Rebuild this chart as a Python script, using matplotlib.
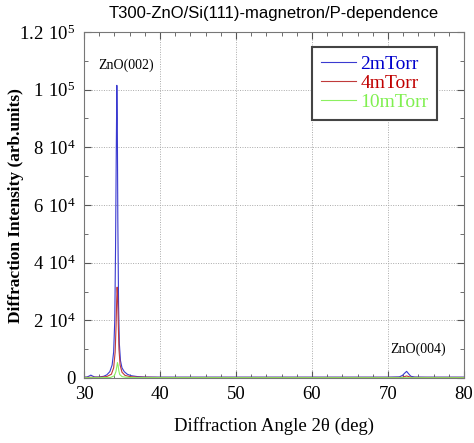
import matplotlib
matplotlib.use("Agg")
import matplotlib.pyplot as plt
from matplotlib.ticker import MultipleLocator, FixedLocator

plt.rcParams['mathtext.fontset'] = 'custom'
plt.rcParams['mathtext.rm'] = 'Liberation Serif'

# 2mTorr
x_2 = [30, 30.4, 30.7, 30.9, 31.1, 31.4, 32.0, 32.6, 33.0, 33.4, 33.7, 33.9, 34.05, 34.15, 34.25, 34.32, 34.38, 34.45, 34.55, 34.65, 34.8, 35.0, 35.3, 35.7, 36.2, 37.0, 38.0, 40.0, 50.0, 60.0, 70.0, 71.5, 71.9, 72.2, 72.45, 72.7, 73.0, 73.5, 75.0, 80.0]
y_2 = [300, 350, 700, 1000, 700, 350, 350, 600, 1100, 2200, 4500, 9000, 20000, 45000, 80000, 101500, 90000, 55000, 25000, 12000, 6000, 3500, 2200, 1300, 800, 500, 350, 300, 300, 300, 300, 400, 900, 1700, 2300, 1500, 600, 350, 300, 300]

# 4mTorr
x_4 = [30, 31.0, 32.0, 33.0, 33.6, 33.9, 34.1, 34.22, 34.3, 34.36, 34.42, 34.5, 34.6, 34.75, 35.0, 35.4, 36.0, 37.0, 40.0, 60.0, 71.8, 72.45, 73.1, 80.0]
y_4 = [200, 250, 250, 500, 1300, 3500, 9000, 18000, 27000, 31500, 29000, 20000, 10000, 4500, 2000, 900, 500, 300, 200, 200, 200, 700, 200, 200]

# 10mTorr
x_10 = [30, 32.0, 33.5, 34.0, 34.2, 34.32, 34.4, 34.48, 34.58, 34.7, 35.0, 35.5, 37.0, 80.0]
y_10 = [100, 100, 200, 800, 2200, 4000, 5300, 4500, 2500, 1200, 500, 250, 120, 100]

labels = ['2mTorr', '4mTorr', '10mTorr']
colors = ['#3a3ad0', '#c03a3a', '#8cf060']
text_colors = ['#0000cc', '#c00000', '#80f050']

fig = plt.figure(figsize=(4.74, 4.43), dpi=100)
ax = fig.add_axes([84/474, 1-378/443, 380/474, 346/443])

for xs, ys, c, lab in zip([x_2, x_4, x_10], [y_2, y_4, y_10], colors, labels):
    ax.plot(xs, ys, color=c, lw=0.8, label=lab)

ax.set_xlim(30, 80)
ax.set_ylim(0, 120000)
ax.xaxis.set_major_locator(MultipleLocator(10))
ax.xaxis.set_minor_locator(MultipleLocator(2))
yticks = [0, 20000, 40000, 60000, 80000, 100000, 120000]
ax.yaxis.set_major_locator(FixedLocator(yticks))
ax.yaxis.set_minor_locator(MultipleLocator(10000))
ylabels = ['0', r'$\mathrm{2\ 10^4}$', r'$\mathrm{4\ 10^4}$', r'$\mathrm{6\ 10^4}$',
           r'$\mathrm{8\ 10^4}$', r'$\mathrm{1\ 10^5}$', r'$\mathrm{1.2\ 10^5}$']
ax.set_yticklabels(ylabels)
ax.tick_params(which='both', direction='in', top=True, right=True, color='#555555')
ax.tick_params(which='major', length=5, labelsize=13.5, pad=6)
ax.tick_params(which='minor', length=3)
for lab in ax.get_xticklabels() + ax.get_yticklabels():
    lab.set_fontfamily('Liberation Serif')
ax.grid(True, which='major', linestyle=(0, (1, 1.5)), color='#aaaaaa', lw=0.7)
for s in ax.spines.values():
    s.set_color('#777777')
    s.set_linewidth(0.8)

ax.set_xlabel('Diffraction Angle 2θ (deg)', fontfamily='Liberation Serif', fontsize=13.5, labelpad=10)
fig.text(16/474, 1-206/443, 'Diffraction Intensity (arb.units)', fontfamily='Liberation Serif',
         fontsize=12.5, fontweight='bold', rotation=90, ha='center', va='center')
ax.set_title('T300-ZnO/Si(111)-magnetron/P-dependence', fontfamily='Liberation Sans', fontsize=12, pad=10)

ax.text(35.5, 108500, 'ZnO(002)', fontfamily='Liberation Serif', fontsize=10, ha='center', va='center')
ax.text(73.9, 10000, 'ZnO(004)', fontfamily='Liberation Serif', fontsize=10, ha='center', va='center')

leg = ax.legend(loc='upper right', bbox_to_anchor=(0.93, 0.957), fancybox=False, framealpha=1,
                edgecolor='#444444', prop={'family': 'Liberation Serif', 'size': 14},
                handlelength=1.8, borderpad=0.45, labelspacing=0.06, handletextpad=0.25,
                borderaxespad=0)
leg.get_frame().set_linewidth(1.5)
for t, c in zip(leg.get_texts(), text_colors):
    t.set_color(c)

fig.savefig('out.png', dpi=100)
